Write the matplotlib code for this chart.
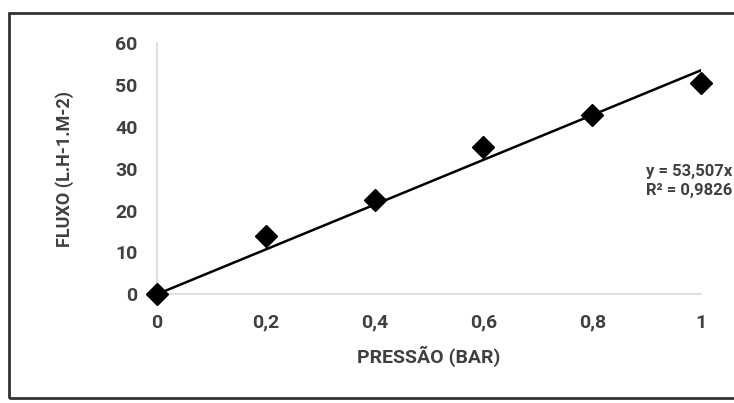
import matplotlib.pyplot as plt
from matplotlib.patches import Rectangle

# dados
pressao = [0, 0.2, 0.4, 0.6, 0.8, 1.0]
fluxo = [0, 13.9, 22.6, 35.2, 42.9, 50.4]
x_ticks = [0, 0.2, 0.4, 0.6, 0.8, 1.0]
x_tick_labels = ["0", "0,2", "0,4", "0,6", "0,8", "1"]
y_ticks = [0, 10, 20, 30, 40, 50, 60]
slope = 53.507
r2 = 0.9826

plt.rcParams['font.family'] = ['Roboto', 'DejaVu Sans']
txt_color = '#404040'

fig = plt.figure(figsize=(7.34, 4.03), dpi=100)
ax = fig.add_axes([0.214, 0.270, 0.741, 0.623])

# linha de tendência (passa pela origem)
ax.plot([0, 1], [0, slope * 1], color='black', lw=1.8, zorder=2)
ax.plot(pressao, fluxo, linestyle='none', marker='D', color='black',
        markersize=11, clip_on=False, zorder=3)

ax.set_xlim(0, 1)
ax.set_ylim(0, 60)
ax.set_xticks(x_ticks)
ax.set_xticklabels(x_tick_labels)
ax.set_yticks(y_ticks)
ax.tick_params(length=0, labelsize=14, colors=txt_color, pad=14)
for lab in ax.get_xticklabels() + ax.get_yticklabels():
    lab.set_fontweight('bold')

for s in ['top', 'right']:
    ax.spines[s].set_visible(False)
for s in ['left', 'bottom']:
    ax.spines[s].set_color('#d9d9d9')
    ax.spines[s].set_linewidth(1.2)

ax.set_xlabel("PRESSÃO (BAR)", fontsize=14, color=txt_color, fontweight='bold', labelpad=10)
ax.set_ylabel("FLUXO (L.H-1.M-2)", fontsize=13, color=txt_color, fontweight='bold', labelpad=30)

eq_text = f"y = {slope:.3f}x".replace('.', ',') + "\n" + f"R² = {r2:.4f}".replace('.', ',')
fig.text(0.998, 1 - 181 / 403, eq_text, ha='right', va='center', fontsize=12,
         fontweight='bold', color=txt_color, linespacing=1.3)

# moldura externa
fig.patches.append(Rectangle((0.012, 0.012), 1.1, 0.955, transform=fig.transFigure,
                             fill=False, edgecolor='#333333', lw=2))

fig.savefig("out.png", dpi=100)
